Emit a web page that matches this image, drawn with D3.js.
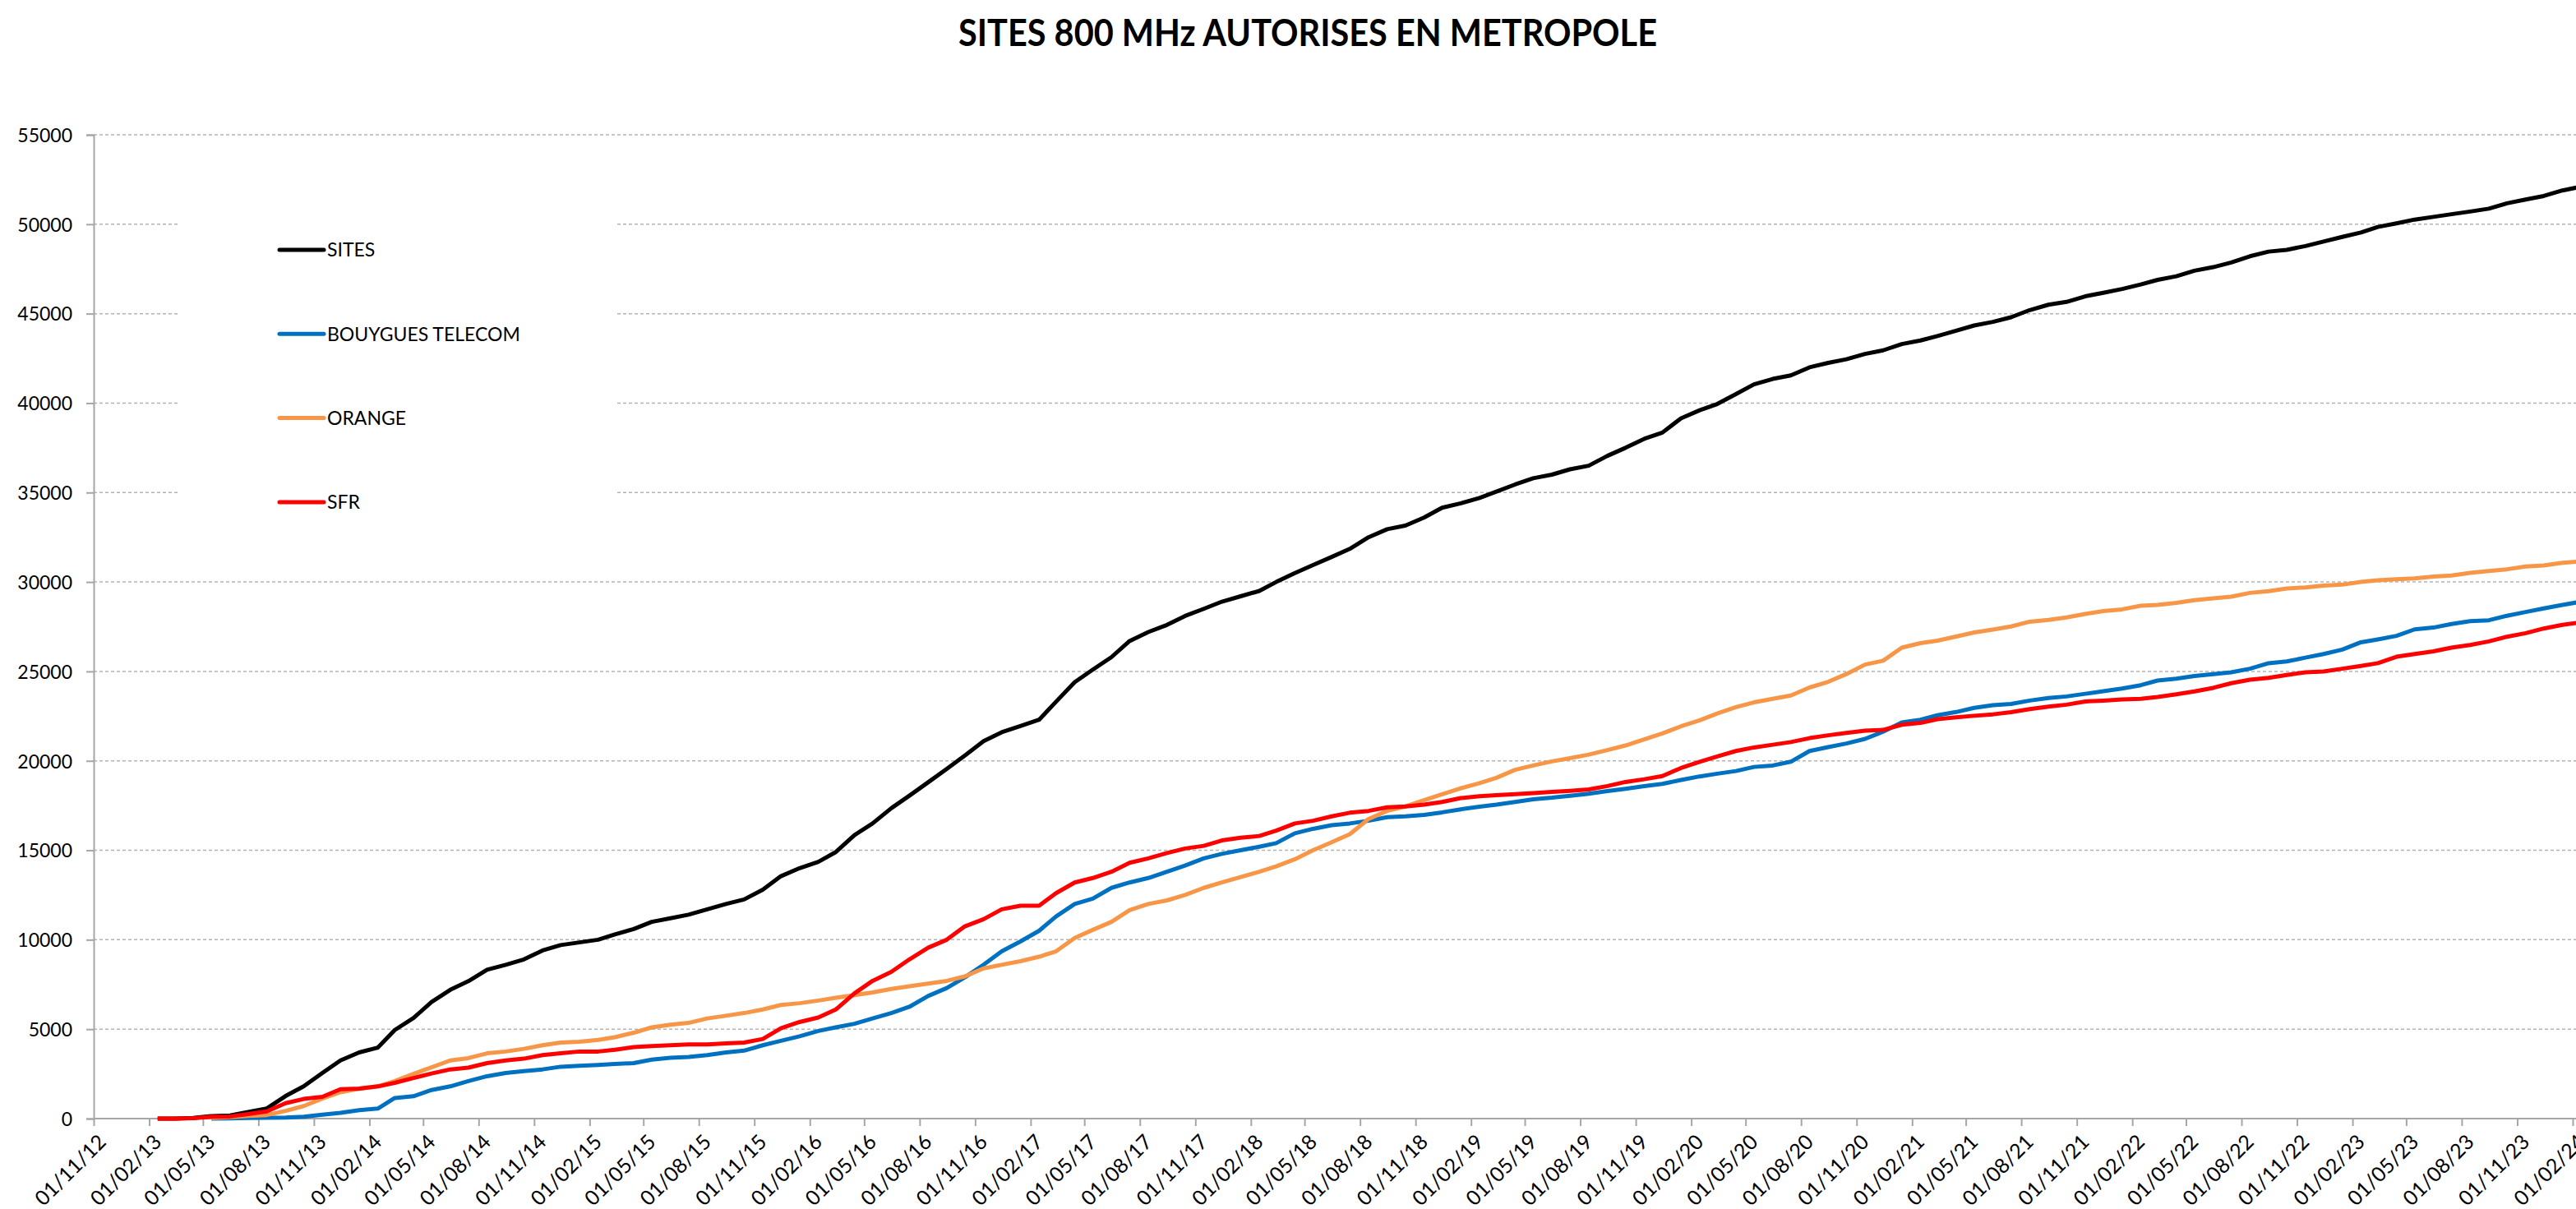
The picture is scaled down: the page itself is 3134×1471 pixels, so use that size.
<!DOCTYPE html>
<html>
<head>
<meta charset="utf-8">
<script src="https://d3js.org/d3.v7.min.js"></script>
<style>
  body { margin: 0; background: #fff; }
  svg { display: block; }
  .title { font-family: Lato, "Open Sans", sans-serif; font-weight: 700; }
  .axis text { font-family: Lato, "Open Sans", sans-serif; fill: #000; }
  .legend text { font-family: Lato, "Open Sans", sans-serif; fill: #000; }
</style>
</head>
<body>
<svg width="3134" height="1471"></svg>
<script>
// Monthly points from Feb 2013 to Feb 2024 (plotted at mid-month)
var firstMonth = new Date(2013, 1, 15);

var sites = [
  0, 0, 30, 140, 170, 370, 570, 1260, 1800, 2550, 3250,
  3700, 3970, 4950, 5620, 6520, 7200, 7680, 8320, 8600, 8900, 9400, 9700,
  9850, 10000, 10300, 10600, 11000, 11200, 11400, 11700, 12000, 12250, 12800, 13550,
  14000, 14350, 14900, 15850, 16500, 17350, 18050, 18800, 19550, 20300, 21100, 21600,
  21950, 22300, 23300, 24400, 25100, 25800, 26700, 27200, 27600, 28100, 28500, 28900,
  29200, 29500, 30000, 30500, 30950, 31400, 31850, 32500, 32950, 33150, 33600, 34150,
  34400, 34700, 35050, 35450, 35800, 36000, 36300, 36500, 37050, 37500, 38000, 38350,
  39150, 39600, 39950, 40500, 41050, 41350, 41550, 42000, 42250, 42450, 42750, 42950,
  43300, 43500, 43750, 44050, 44340, 44540, 44800, 45200, 45500, 45660, 45970, 46170,
  46380, 46630, 46890, 47090, 47400, 47600, 47860, 48210, 48470, 48570, 48780, 49030,
  49290, 49540, 49850, 50050, 50260, 50410, 50560, 50710, 50870, 51170, 51380, 51580,
  51890, 52100
];

var bouygues = [
  null, null, null, 0, 10, 30, 50, 60, 100, 220, 320,
  470, 560, 1150, 1250, 1600, 1800, 2100, 2370, 2550, 2650, 2750, 2900,
  2950, 3000, 3050, 3100, 3300, 3400, 3450, 3550, 3700, 3800, 4100, 4350,
  4600, 4900, 5100, 5300, 5600, 5900, 6250, 6850, 7300, 7900, 8600, 9350,
  9900, 10500, 11300, 12000, 12300, 12900, 13200, 13450, 13800, 14150, 14550, 14800,
  15000, 15200, 15400, 15950, 16200, 16400, 16500, 16650, 16850, 16900, 16980, 17120,
  17290, 17440, 17550, 17700, 17850, 17940, 18050, 18160, 18310, 18440, 18590, 18710,
  18930, 19130, 19280, 19430, 19660, 19740, 19950, 20550, 20770, 20970, 21230, 21630,
  22150, 22300, 22550, 22730, 22960, 23110, 23180, 23370, 23510, 23600, 23750, 23890,
  24040, 24230, 24490, 24590, 24740, 24850, 24950, 25150, 25460, 25560, 25770, 25970,
  26220, 26630, 26790, 26990, 27350, 27450, 27650, 27810, 27860, 28110, 28320, 28520,
  28720, 28900
];

var orange = [
  null, null, null, 30, 80, 150, 200, 430, 700, 1120, 1470,
  1670, 1800, 2100, 2500, 2870, 3250, 3380, 3650, 3750, 3900, 4100, 4250,
  4300, 4400, 4550, 4800, 5100, 5250, 5350, 5600, 5750, 5900, 6100, 6350,
  6450, 6600, 6750, 6900, 7050, 7250, 7400, 7550, 7700, 7950, 8400, 8600,
  8800, 9050, 9350, 10100, 10550, 11000, 11650, 12000, 12200, 12500, 12900, 13200,
  13500, 13800, 14100, 14500, 15000, 15450, 15900, 16750, 17200, 17450, 17800, 18130,
  18470, 18750, 19050, 19500, 19740, 19970, 20150, 20350, 20600, 20860, 21200, 21530,
  21930, 22270, 22650, 23000, 23270, 23470, 23650, 24100, 24420, 24850, 25380, 25600,
  26330, 26580, 26720, 26950, 27180, 27340, 27510, 27780, 27880, 28020, 28210, 28370,
  28470, 28670, 28720, 28830, 28980, 29080, 29180, 29390, 29490, 29640, 29690, 29800,
  29850, 30000, 30100, 30150, 30200, 30300, 30360, 30510, 30610, 30710, 30870, 30920,
  31070, 31150
];

var sfr = [
  0, 0, 20, 100, 120, 250, 400, 860, 1100, 1220, 1640,
  1680, 1800, 2000, 2270, 2520, 2750, 2850, 3100, 3250, 3350, 3550, 3650,
  3750, 3750, 3850, 4000, 4050, 4100, 4150, 4150, 4200, 4250, 4450, 5050,
  5400, 5650, 6100, 7000, 7700, 8200, 8900, 9550, 10000, 10750, 11150, 11700,
  11900, 11900, 12600, 13200, 13450, 13800, 14300, 14550, 14850, 15100, 15250, 15550,
  15700, 15800, 16100, 16500, 16650, 16900, 17100, 17200, 17400, 17450, 17550, 17700,
  17920, 18020, 18080, 18140, 18200, 18260, 18320, 18400, 18590, 18820, 18970, 19150,
  19600, 19950, 20250, 20550, 20750, 20900, 21050, 21270, 21430, 21560, 21690, 21730,
  22020, 22120, 22330, 22430, 22520, 22600, 22720, 22890, 23030, 23140, 23320, 23370,
  23430, 23470, 23570, 23720, 23880, 24080, 24340, 24540, 24640, 24800, 24950, 25000,
  25150, 25310, 25460, 25820, 25970, 26120, 26330, 26480, 26680, 26940, 27140, 27400,
  27600, 27750
];

var seriesNames = ['SITES', 'BOUYGUES TELECOM', 'ORANGE', 'SFR'];
var seriesColors = ['#000000', '#0070c0', '#f79646', '#ff0000'];
var seriesValues = [sites, bouygues, orange, sfr];

// x tick labels, every 3 months
var xTickLabels = [
  '01/11/12', '01/02/13', '01/05/13', '01/08/13', '01/11/13', '01/02/14', '01/05/14',
  '01/08/14', '01/11/14', '01/02/15', '01/05/15', '01/08/15', '01/11/15', '01/02/16',
  '01/05/16', '01/08/16', '01/11/16', '01/02/17', '01/05/17', '01/08/17', '01/11/17',
  '01/02/18', '01/05/18', '01/08/18', '01/11/18', '01/02/19', '01/05/19', '01/08/19',
  '01/11/19', '01/02/20', '01/05/20', '01/08/20', '01/11/20', '01/02/21', '01/05/21',
  '01/08/21', '01/11/21', '01/02/22', '01/05/22', '01/08/22', '01/11/22', '01/02/23',
  '01/05/23', '01/08/23', '01/11/23', '01/02/24'
];
var yTicks = [0, 5000, 10000, 15000, 20000, 25000, 30000, 35000, 40000, 45000, 50000, 55000];

var svg = d3.select('svg');
var plotLeft = 114, plotRight = 3130, plotTop = 164, plotBottom = 1361;

var parseTick = d3.timeParse('%d/%m/%y');
var tickDates = xTickLabels.map(parseTick);

var x = d3.scaleTime()
  .domain([tickDates[0], tickDates[tickDates.length - 1]])
  .range([plotLeft, plotRight]);
var y = d3.scaleLinear().domain([0, 55000]).range([plotBottom, plotTop]);

var dates = sites.map(function(d, i) { return d3.timeMonth.offset(firstMonth, i); });

svg.append('rect').attr('width', 3134).attr('height', 1471).attr('fill', '#fff');

// title
svg.append('text')
  .attr('class', 'title')
  .attr('x', 1591)
  .attr('y', 56)
  .attr('text-anchor', 'middle')
  .attr('font-size', 46)
  .attr('textLength', 850)
  .attr('lengthAdjust', 'spacingAndGlyphs')
  .text('SITES 800 MHz AUTORISES EN METROPOLE');

// dashed gridlines
svg.append('g')
  .selectAll('line')
  .data(yTicks.filter(function(d) { return d > 0; }))
  .enter().append('line')
  .attr('x1', plotLeft)
  .attr('x2', 3134)
  .attr('y1', function(d) { return y(d); })
  .attr('y2', function(d) { return y(d); })
  .attr('stroke', '#b4b4b4')
  .attr('stroke-width', 1.5)
  .attr('stroke-dasharray', '4,3');

// y axis
var yAxis = svg.append('g')
  .attr('class', 'axis')
  .attr('transform', 'translate(' + plotLeft + ',0)')
  .call(d3.axisLeft(y).tickValues(yTicks).tickFormat(d3.format('d')).tickSize(9).tickPadding(17));
yAxis.select('.domain').attr('stroke', '#a6a6a6').attr('stroke-width', 2);
yAxis.selectAll('.tick line').attr('stroke', '#a6a6a6').attr('stroke-width', 2);
yAxis.selectAll('.tick text').attr('font-size', 23).attr('dy', '0.36em');

// x axis
var xAxis = svg.append('g')
  .attr('class', 'axis')
  .attr('transform', 'translate(0,' + plotBottom + ')')
  .call(d3.axisBottom(x).tickValues(tickDates).tickFormat(function(d, i) { return xTickLabels[i]; }).tickSize(9).tickSizeOuter(0));
xAxis.select('.domain').attr('stroke', '#a6a6a6').attr('stroke-width', 2).attr('d', 'M' + plotLeft + ',0H3134');
xAxis.selectAll('.tick line').attr('stroke', '#a6a6a6').attr('stroke-width', 2);
xAxis.selectAll('.tick text')
  .attr('font-size', 25)
  .attr('text-anchor', 'end')
  .attr('y', 0)
  .attr('dy', 0)
  .attr('transform', 'translate(16,30) rotate(-45)');

// white box behind legend
svg.append('rect')
  .attr('x', 217).attr('y', 250)
  .attr('width', 534).attr('height', 415)
  .attr('fill', '#fff');

// series lines
var line = d3.line()
  .defined(function(d) { return d.v !== null; })
  .x(function(d) { return x(d.date); })
  .y(function(d) { return y(d.v); });

svg.append('g')
  .selectAll('path')
  .data(seriesValues)
  .enter().append('path')
  .attr('fill', 'none')
  .attr('stroke', function(d, i) { return seriesColors[i]; })
  .attr('stroke-width', 5)
  .attr('stroke-linejoin', 'round')
  .attr('d', function(vals) {
    return line(vals.map(function(v, i) { return { date: dates[i], v: v }; }));
  });

// legend
var legend = svg.append('g')
  .attr('class', 'legend')
  .selectAll('g')
  .data(seriesNames)
  .enter().append('g')
  .attr('transform', function(d, i) { return 'translate(340,' + (304 + i * 102.3) + ')'; });

legend.append('line')
  .attr('x1', 0).attr('x2', 54)
  .attr('stroke', function(d, i) { return seriesColors[i]; })
  .attr('stroke-width', 5)
  .attr('stroke-linecap', 'round');

legend.append('text')
  .attr('x', 58)
  .attr('dy', '0.36em')
  .attr('font-size', 23)
  .text(function(d) { return d; });
</script>
</body>
</html>
